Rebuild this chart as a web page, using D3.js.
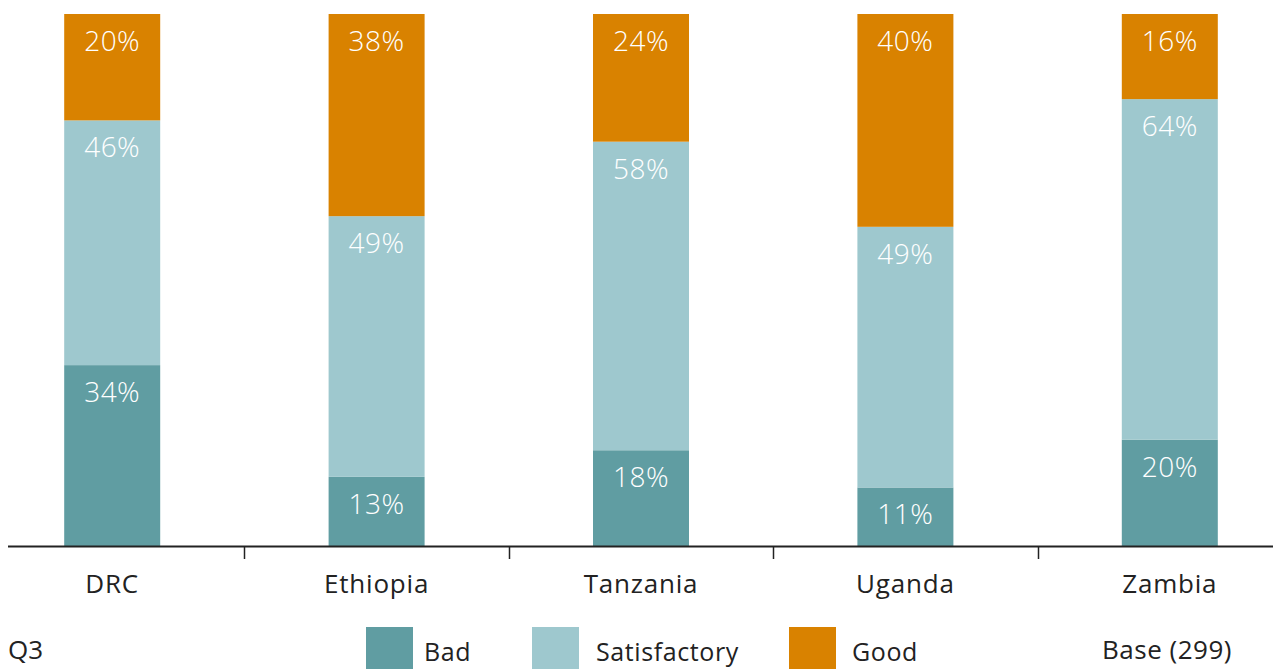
<!DOCTYPE html>
<html><head><meta charset="utf-8">
<script src="https://cdn.jsdelivr.net/npm/d3@7"></script>
<style>body{margin:0;background:#fff}svg{display:block}text{font-family:"Open Sans",Lato,sans-serif}</style>
</head><body><svg id="c" width="1273" height="669"></svg>
<script>
const countries = ["DRC","Ethiopia","Tanzania","Uganda","Zambia"];
const seriesNames = ["Bad","Satisfactory","Good"];
const bad = [34,13,18,11,20];
const satisfactory = [46,49,58,49,64];
const good = [20,38,24,40,16];
const colors = ["#609da2","#9ec8ce","#d98200"];
const noteLeft = "Q3";
const noteRight = "Base (299)";

const svg = d3.select("#c");
const W = 1273;
const x = d3.scaleBand().domain(countries).range([-20, 1302]).paddingInner(0.636).paddingOuter(0.318);
const y = d3.scaleLinear().domain([0,100]).range([546,14]);
const rows = countries.map((c,i)=>({country:c,Bad:bad[i],Satisfactory:satisfactory[i],Good:good[i]}));
const stack = d3.stack().keys(seriesNames)(rows);
const bw = 96;
const g = svg.append("g");
stack.forEach((layer,li)=>{
  const sg = g.append("g");
  sg.selectAll("rect").data(layer).join("rect")
    .attr("x",d=>x(d.data.country)+x.bandwidth()/2-bw/2)
    .attr("width",bw)
    .attr("y",d=>y(d[1]))
    .attr("height",d=>y(d[0])-y(d[1]))
    .attr("fill",colors[li]);
  sg.selectAll("text").data(layer).join("text")
    .attr("x",d=>x(d.data.country)+x.bandwidth()/2)
    .attr("y",d=>y(d[1])+37)
    .attr("text-anchor","middle")
    .attr("fill","#fff")
    .attr("font-size",28)
    .attr("font-weight",300)
    .attr("letter-spacing","0.5px")
    .text(d=>(d[1]-d[0])+"%");
});
// axis
const step = x.step();
const ax = d3.axisBottom(x).tickSize(0).tickPadding(26);
const axg = svg.append("g").attr("transform","translate(0,546)").call(ax);
axg.select(".domain").remove();
axg.selectAll("text").attr("font-size",26).attr("fill","#222").attr("font-family","'Open Sans', sans-serif")
  .attr("letter-spacing","0.8px").attr("dy","0").attr("y",47);
svg.append("line").attr("x1",8).attr("x2",W).attr("y1",546.5).attr("y2",546.5).attr("stroke","#222").attr("stroke-width",2);
countries.slice(1).forEach(c=>{
  const xx = Math.round(x(c)+x.bandwidth()/2 - step/2)+0.5;
  svg.append("line").attr("x1",xx).attr("x2",xx).attr("y1",546).attr("y2",559).attr("stroke","#222").attr("stroke-width",1.5);
});
// notes
svg.append("text").attr("x",8).attr("y",659).attr("font-size",26).attr("fill","#222").text(noteLeft);
svg.append("text").attr("x",1232).attr("y",659).attr("text-anchor","end").attr("font-size",26).attr("letter-spacing","0.5px").attr("fill","#222").text(noteRight);
// legend
const legX = [366,532,789];
const legTextX = [424,596,852];
seriesNames.forEach((s,i)=>{
  svg.append("rect").attr("x",legX[i]).attr("y",627).attr("width",47).attr("height",50).attr("fill",colors[i]);
  svg.append("text").attr("x",legTextX[i]).attr("y",661).attr("font-size",25).attr("letter-spacing","0.6px").attr("fill","#222").text(s);
});
</script></body></html>
